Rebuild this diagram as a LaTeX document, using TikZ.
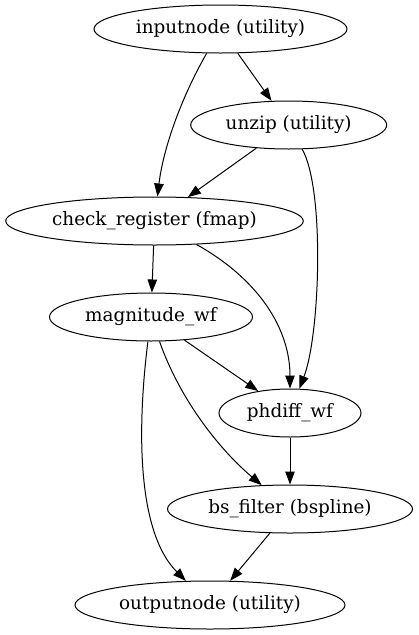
\documentclass[tikz,border=0pt]{standalone}
\usepackage{fontspec}
\setmainfont{DejaVu Serif}
\usetikzlibrary{shapes.geometric,arrows.meta}
\tikzset{
  gnode/.style={draw, ellipse, inner sep=0pt, minimum height=48pt, line width=1pt,
    font=\fontsize{18.4}{22}\selectfont},
  edge/.style={-{Triangle[length=13pt,width=9.5pt]}, line width=1pt}
}
\begin{document}
\begin{tikzpicture}[x=1pt,y=-1pt]
\useasboundingbox (0,0) rectangle (418,635);
\node[gnode, minimum width=253pt] (in) at (220.5,29) {inputnode (utility)};
\node[gnode, minimum width=196pt] (uz) at (288.7,125) {unzip (utility)};
\node[gnode, minimum width=297.6pt] (cr) at (154.5,221) {check\_register (fmap)};
\node[gnode, minimum width=203pt] (mg) at (151,317) {magnitude\_wf};
\node[gnode, minimum width=142pt] (ph) at (290,413) {phdiff\_wf};
\node[gnode, minimum width=245pt] (bs) at (290,509) {bs\_filter (bspline)};
\node[gnode, minimum width=270pt] (out) at (210,605) {outputnode (utility)};

\draw[edge] (in) .. controls (180,100) and (163,150) .. (cr);
\draw[edge] (in) -- (uz);
\draw[edge] (uz) -- (cr);
\draw[edge] (uz) .. controls (325,190) and (320,335) .. (ph);
\draw[edge] (cr) -- (mg);
\draw[edge] (cr) .. controls (260,280) and (290,330) .. (ph);
\draw[edge] (mg) -- (ph);
\draw[edge] (mg) .. controls (180,400) and (220,450) .. (bs);
\draw[edge] (mg) .. controls (138,420) and (135,530) .. (out);
\draw[edge] (ph) -- (bs);
\draw[edge] (bs) -- (out);
\end{tikzpicture}
\end{document}
